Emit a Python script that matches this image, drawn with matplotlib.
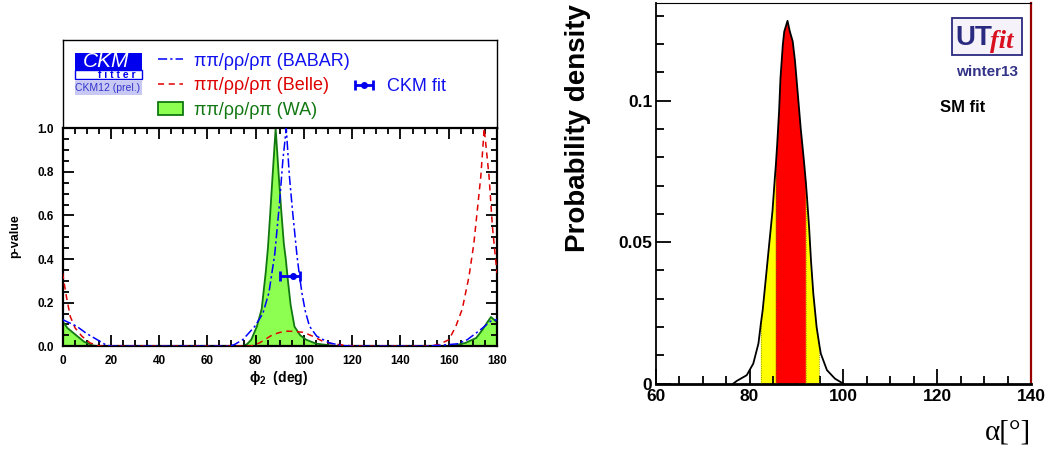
import numpy as np
import matplotlib.pyplot as plt
from matplotlib.ticker import MultipleLocator
from matplotlib.patches import Rectangle, Patch

plt.rcParams['font.family'] = ['Liberation Sans', 'DejaVu Sans']
plt.rcParams['mathtext.fontset'] = 'custom'
plt.rcParams['mathtext.rm'] = 'Liberation Sans:bold'
plt.rcParams['mathtext.it'] = 'Liberation Sans:bold'
plt.rcParams['mathtext.bf'] = 'Liberation Sans:bold'

### left panel: p-value vs phi2 (deg)
phi_babar = [0, 5.8, 10, 14.8, 17.8, 20, 69, 71.3, 74.7, 79.6, 83, 85.5, 87.9, 89.9, 91.3, 92.7,
             94.0, 95.3, 97.1, 98.2, 99.3, 100.6, 102.3, 105.3, 110.6, 116, 120,
             150, 157.5, 163.6, 167.7, 173.2, 177.4, 180]
p_babar = [0.122, 0.092, 0.058, 0.027, 0.007, 0, 0, 0.008, 0.03, 0.09, 0.15, 0.245, 0.42, 0.656, 0.855, 1.0,
           0.78, 0.62, 0.42, 0.32, 0.237, 0.16, 0.092, 0.046, 0.015, 0.003, 0,
           0, 0.005, 0.011, 0.03, 0.076, 0.115, 0.122]

phi_belle = [0, 1.6, 3.2, 5.2, 8, 11.4, 15.6, 78, 81.6, 84.5, 87.1, 90, 92.7, 96, 99.5, 101.5, 103.6,
             107.7, 111.8, 118, 125, 152, 156, 160.1, 162.9, 165.6, 168.4, 170.4, 171.9, 173.3,
             174.7, 176.7, 178.1, 179.4, 180]
p_belle = [0.336, 0.229, 0.137, 0.084, 0.046, 0.015, 0, 0, 0.015, 0.035, 0.053, 0.063, 0.069, 0.068, 0.064,
           0.056, 0.046, 0.023, 0.011, 0.003, 0, 0, 0.008, 0.03, 0.09, 0.17, 0.32, 0.47, 0.63, 0.78,
           1.0, 0.78, 0.55, 0.40, 0.336]

phi_wa = [0, 2, 5.8, 9, 12.8, 15, 74.6, 76.5, 78.2, 80.5, 82.5, 83.3, 84.2, 85.1, 86.0, 86.9, 88.3,
          89.6, 90.6, 91.7, 92.5, 93.4, 94.5, 96.1, 98.5, 100.9, 105, 110.6, 115,
          160, 163, 166.9, 171.4, 174, 176, 177.5, 180]
p_wa = [0.115, 0.084, 0.049, 0.02, 0.003, 0, 0, 0.01, 0.03, 0.09, 0.17, 0.25, 0.34, 0.45, 0.60, 0.76, 1.0,
        0.78, 0.626, 0.47, 0.40, 0.30, 0.19, 0.09, 0.05, 0.03, 0.012, 0.004, 0,
        0, 0.005, 0.015, 0.038, 0.076, 0.11, 0.134, 0.11]

# CKM fit point
ckm_phi = 95.4
ckm_lo = 90.2
ckm_hi = 98.2
ckm_y = 0.32

### right panel: UTfit posterior of alpha
alpha = [76.5, 77.3, 79.4, 80.8, 81.9, 82.4, 82.8, 83.5, 84.2, 84.9, 85.4, 85.6, 85.9, 86.3, 86.6,
         87.1, 87.4, 88.1, 88.6, 89.2, 89.7, 90.3, 90.9, 91.6, 92.0, 92.2, 92.7, 93.1, 93.6,
         94.3, 94.9, 95.2, 96.5, 98.2, 100.0]
dens = [0.0, 0.001, 0.003, 0.0071, 0.0142, 0.021, 0.0259, 0.0376, 0.0494, 0.0611, 0.0728, 0.077,
        0.0846, 0.0963, 0.108, 0.1198, 0.1244, 0.1282, 0.1244, 0.121, 0.1139, 0.1022, 0.0904,
        0.0787, 0.0713, 0.067, 0.0552, 0.0435, 0.0318, 0.02, 0.0135, 0.0106, 0.0048, 0.0018, 0.0]
ci95 = (82.4, 94.9)
ci68 = (85.6, 92.0)

W, H = 1052, 451
fx = lambda x: x / W
fy = lambda y: 1 - y / H

fig = plt.figure(figsize=(W / 100, H / 100), dpi=100)

# legend frame above the left plot
legax = fig.add_axes([fx(62.5), fy(128.3), (497 - 62.5) / W, (128.3 - 40) / H])
legax.set_xticks([])
legax.set_yticks([])
for s in legax.spines.values():
    s.set_linewidth(1.0)

ax1 = fig.add_axes([fx(62.5), fy(346.2), (497 - 62.5) / W, (346.2 - 128.3) / H])
wa_fill = ax1.fill_between(phi_wa, p_wa, 0, facecolor='#8cff50', edgecolor='none', zorder=1)
ax1.plot(phi_wa, p_wa, color='#117711', lw=1.3, zorder=2)
l_belle, = ax1.plot(phi_belle, p_belle, color='#e00000', lw=1.1, ls=(0, (4, 3)), zorder=3)
l_babar, = ax1.plot(phi_babar, p_babar, color='#0000ff', lw=1.1, ls=(0, (6, 2, 1.5, 2)), zorder=4)
ckm = ax1.errorbar([ckm_phi], [ckm_y], xerr=[[ckm_phi - ckm_lo], [ckm_hi - ckm_phi]],
                   fmt='o', ms=4, color='#0000ee', lw=2, capsize=3.5, capthick=2, zorder=5)

ax1.set_xlim(0, 180)
ax1.set_ylim(0, 1)
ax1.xaxis.set_major_locator(MultipleLocator(20))
ax1.xaxis.set_minor_locator(MultipleLocator(5))
ax1.yaxis.set_major_locator(MultipleLocator(0.2))
ax1.yaxis.set_minor_locator(MultipleLocator(0.05))
ax1.yaxis.set_major_formatter(lambda v, p: f"{v:.1f}")
ax1.tick_params(which='both', direction='in', top=True, right=True, labelsize=8.5, width=1.3, pad=6)
ax1.tick_params(which='major', length=8)
ax1.tick_params(which='minor', length=4)
for t in ax1.get_xticklabels() + ax1.get_yticklabels():
    t.set_fontweight('bold')
for s in ax1.spines.values():
    s.set_linewidth(1.6)
fig.text(fx(279), fy(378), r'$\phi_{2}$  (deg)', ha='center', va='center', fontsize=10, fontweight='bold')
fig.text(fx(15), fy(236), 'p-value', rotation=90, ha='center', va='center', fontsize=9, fontweight='bold')

wa_handle = Patch(facecolor='#8cff50', edgecolor='#117711', lw=1.3)
leg1 = fig.legend([l_babar, l_belle, wa_handle],
                  ['ππ/ρρ/ρπ (BABAR)', 'ππ/ρρ/ρπ (Belle)', 'ππ/ρρ/ρπ (WA)'],
                  loc='upper left', bbox_to_anchor=(fx(158), fy(52.5)), frameon=False,
                  fontsize=13, borderpad=0, borderaxespad=0, handlelength=1.4,
                  handletextpad=0.6, labelspacing=0.42)
for t, c in zip(leg1.get_texts(), ['#1010ee', '#dd0000', '#117711']):
    t.set_color(c)
leg2 = fig.legend([ckm], ['CKM fit'], loc='center left', bbox_to_anchor=(fx(351), fy(86.7)),
                  frameon=False, fontsize=13, borderpad=0, borderaxespad=0, handlelength=1.4,
                  handletextpad=0.6)
leg2.get_texts()[0].set_color('#1010ee')

# CKMfitter logo
fig.patches.append(Rectangle((fx(75), fy(70)), fx(66.7), 17.3 / H, transform=fig.transFigure,
                             facecolor='#0000ee', edgecolor='none'))
fig.patches.append(Rectangle((fx(75), fy(79.3)), fx(66.7), 9.3 / H, transform=fig.transFigure,
                             facecolor='white', edgecolor='#0000ee', lw=1))
fig.patches.append(Rectangle((fx(75), fy(95)), fx(66.7), 14 / H, transform=fig.transFigure,
                             facecolor='#c8c8f4', edgecolor='none'))
fig.text(fx(106), fy(61.5), 'CKM', color='white', fontsize=15, style='italic', ha='center', va='center')
fig.text(fx(117), fy(74.8), 'f i t t e r', color='#0000ee', fontsize=7.5, fontweight='bold',
         ha='center', va='center')
fig.text(fx(108), fy(88), 'CKM12 (prel.)', color='#3333cc', fontsize=7.5, ha='center', va='center')

### right panel
ax2 = fig.add_axes([fx(655.7), fy(383.7), (1031 - 655.7) / W, (383.7 - 3) / H])
alpha_a = np.array(alpha)
dens_a = np.array(dens)
ax2.fill_between(alpha_a, dens_a, 0, where=(alpha_a >= ci95[0]) & (alpha_a <= ci95[1]),
                 facecolor='#ffff00', edgecolor='none', zorder=1)
ax2.fill_between(alpha_a, dens_a, 0, where=(alpha_a >= ci68[0]) & (alpha_a <= ci68[1]),
                 facecolor='#ff0000', edgecolor='none', zorder=2)
edge = np.isin(alpha_a, list(ci95) + list(ci68))
ax2.vlines(alpha_a[edge], 0, dens_a[edge], color='#777700', lw=0.6, ls=':', zorder=3)
ax2.plot(alpha_a, dens_a, color='black', lw=1.3, zorder=4)

ax2.set_xlim(60, 140)
ax2.set_ylim(0, 0.1345)
ax2.xaxis.set_major_locator(MultipleLocator(20))
ax2.xaxis.set_minor_locator(MultipleLocator(5))
ax2.set_yticks([0, 0.05, 0.1], ['0', '0.05', '0.1'])
ax2.yaxis.set_minor_locator(MultipleLocator(0.01))
ax2.tick_params(which='both', direction='in', labelsize=12.5, width=1.3)
ax2.tick_params(axis='x', pad=3.5)
ax2.tick_params(axis='y', pad=2.5)
ax2.tick_params(which='major', length=11)
ax2.tick_params(which='minor', length=6)
for t in ax2.get_xticklabels() + ax2.get_yticklabels():
    t.set_fontweight('bold')
ax2.spines['bottom'].set_linewidth(2)
ax2.spines['left'].set_linewidth(1.3)
ax2.spines['top'].set_linewidth(0.8)
ax2.spines['right'].set_linewidth(1.6)
ax2.spines['right'].set_color('#990000')

fig.text(fx(578), fy(128), 'Probability density', rotation=90, ha='center', va='center',
         fontsize=20, fontweight='bold')
fig.text(fx(1031), fy(432), 'α[°]', ha='right', va='center', fontsize=21,
         family=['Liberation Serif', 'DejaVu Serif'])

# UTfit logo
fig.patches.append(Rectangle((fx(952), fy(55)), fx(70), 36.7 / H, transform=fig.transFigure,
                             facecolor='#f6f2fa', edgecolor='#2a2a80', lw=1.3))
fig.text(fx(955), fy(45), 'UT', color='#2a2a80', fontsize=20, fontweight='bold', ha='left',
         va='baseline')
fig.text(fx(990), fy(48), 'fit', color='#d81020', fontsize=19, fontweight='bold', style='italic',
         family=['Liberation Serif'], ha='left', va='baseline')
fig.text(fx(987), fy(71.5), 'winter13', color='#333388', fontsize=11, fontweight='bold',
         ha='center', va='center')
fig.text(fx(940), fy(107), 'SM fit', fontsize=12, fontweight='bold', ha='left', va='center')

fig.savefig('out.png', dpi=100)
